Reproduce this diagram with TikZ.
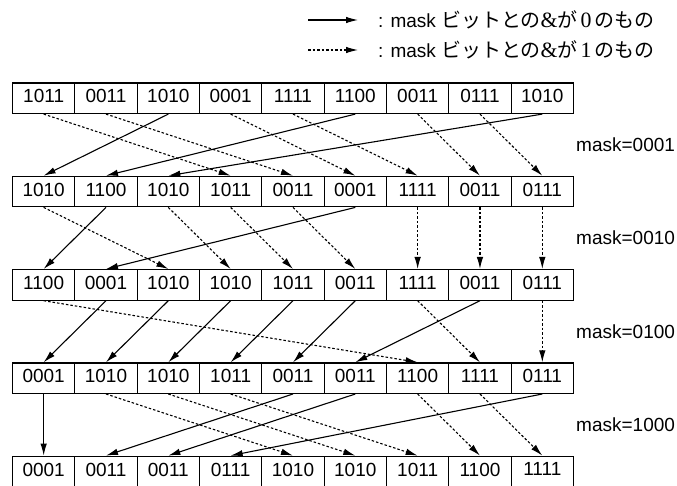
\documentclass[tikz,border=0pt]{standalone}
\usepackage{fontspec}
\setmainfont{Liberation Sans}
\newfontfamily\jpfont[Scale=1.05]{Noto Sans CJK JP}
\newfontfamily\minchofont[Scale=1.15]{Liberation Serif}
\usetikzlibrary{arrows.meta}

\tikzset{
  cell/.style={draw, line width=1.2pt, minimum width=62.33pt, minimum height=30.5pt,
    inner sep=0pt, text depth=4pt},
  zero/.style={-{Latex[length=12pt,width=6.5pt]}, line width=1.1pt},
  one/.style={zero, dash pattern=on 2.5pt off 2pt},
}

\begin{document}
\begin{tikzpicture}[x=1pt,y=-1pt, font=\fontsize{19}{22}\selectfont]
\useasboundingbox (0,0) rectangle (677,486);

% ===== legend =====
\coordinate (l0a) at (308,20);
\coordinate (l0b) at (358,20);
\coordinate (l1a) at (308,50);
\coordinate (l1b) at (358,50);
\draw[zero] (l0a) -- (l0b);
\draw[one] (l1a) -- (l1b);
\node[anchor=west, inner sep=0pt] (t0) at (378,20)
  {: mask {\jpfont ビットとの}{\minchofont\&}{\jpfont が}\kern3pt{\minchofont 0}\kern3pt{\jpfont のもの}};
\node[anchor=west, inner sep=0pt] (t1) at (378,50)
  {: mask {\jpfont ビットとの}{\minchofont\&}{\jpfont が}\kern3pt{\minchofont 1}\kern3pt{\jpfont のもの}};

% ===== rows of cells =====
\foreach \r/\vals in {1/{1011,0011,1010,0001,1111,1100,0011,0111,1010},
                      2/{1010,1100,1010,1011,0011,0001,1111,0011,0111},
                      3/{1100,0001,1010,1010,1011,0011,1111,0011,0111},
                      4/{0001,1010,1010,1011,0011,0011,1100,1111,0111},
                      5/{0001,0011,0011,0111,1010,1010,1011,1100,1111}} {
  \foreach \v [count=\i from 0] in \vals {
    \node[cell] (r\r c\i) at ({12.5+62.33*(\i+0.5)}, {98.25+93.3*(\r-1)}) {\v};
  }
}

% ===== mask labels =====
\foreach \r/\m in {1/0001,2/0010,3/0100,4/1000}
  \node[anchor=west, inner sep=0pt] (m\r) at (576, {98.25+93.3*(\r-1)+46.65}) {mask=\m};

% mask=0001
\foreach \s/\t in {2/0,5/1,8/2} \draw[zero] (r1c\s.south) -- (r2c\t.north);
\foreach \s/\t in {0/3,1/4,3/5,4/6,6/7,7/8} \draw[one] (r1c\s.south) -- (r2c\t.north);

% mask=0010
\foreach \s/\t in {1/0,5/1} \draw[zero] (r2c\s.south) -- (r3c\t.north);
\foreach \s/\t in {0/2,2/3,3/4,4/5,6/6,7/7,8/8} \draw[one] (r2c\s.south) -- (r3c\t.north);

% mask=0100
\foreach \s/\t in {1/0,2/1,3/2,4/3,5/4,7/5} \draw[zero] (r3c\s.south) -- (r4c\t.north);
\foreach \s/\t in {0/6,6/7,8/8} \draw[one] (r3c\s.south) -- (r4c\t.north);

% mask=1000
\foreach \s/\t in {0/0,4/1,5/2,8/3} \draw[zero] (r4c\s.south) -- (r5c\t.north);
\foreach \s/\t in {1/4,2/5,3/6,6/7,7/8} \draw[one] (r4c\s.south) -- (r5c\t.north);

\end{tikzpicture}
\end{document}
